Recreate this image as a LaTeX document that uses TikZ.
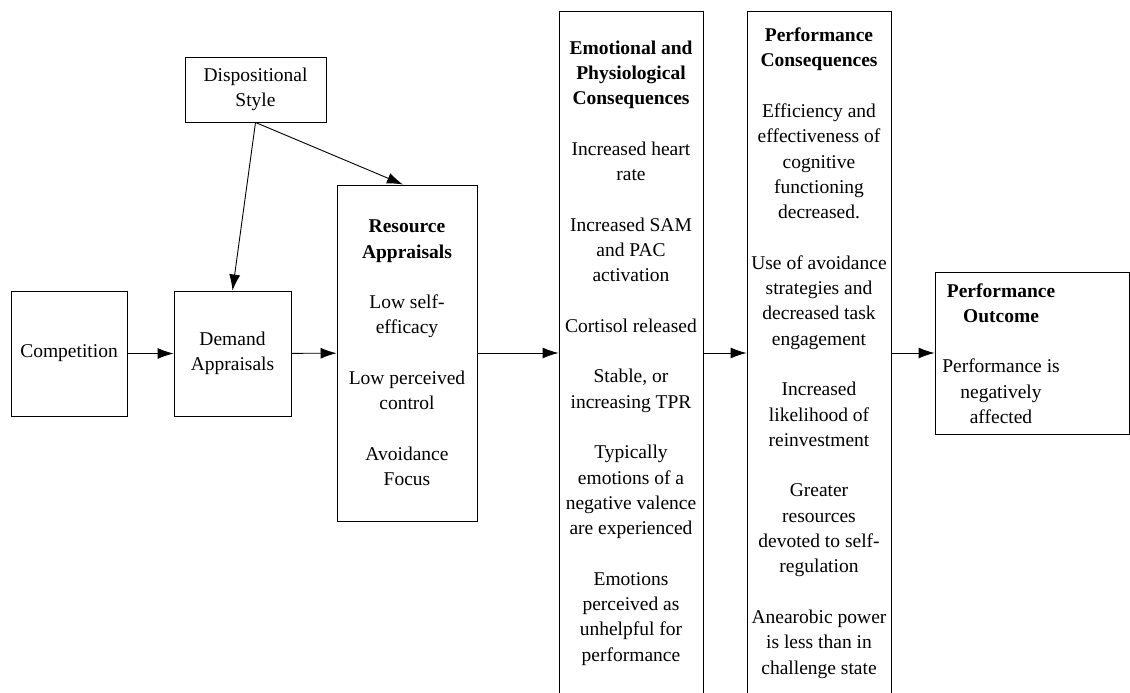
\documentclass[tikz,border=0pt]{standalone}
\usepackage{fontspec}
\setmainfont{Liberation Serif}
\usetikzlibrary{arrows.meta}
\newcommand{\gap}{\\[25.3pt]}

\begin{document}
\begin{tikzpicture}[x=1pt,y=-1pt,
	txt/.style={align=center,inner sep=0pt,font=\fontsize{19.5}{25.3}\selectfont},
	box/.style={txt,draw,line width=0.9pt},
	arr/.style={line width=0.9pt,-{Latex[length=16pt,width=11pt]}}]
	\useasboundingbox(0,0) rectangle (1130,693);
	\node[box,minimum width=141pt,minimum height=65pt](disp) at(255.5,89.5){Dispositional\\Style};
	\node[box,minimum width=116pt,minimum height=125pt](comp) at(69,353.5){Competition};
	\node[box,minimum width=117pt,minimum height=125pt](dem) at(232.5,353.5){Demand\\Appraisals};
	\node[box,minimum width=140pt,minimum height=336pt](res) at(407,353){\textbf{Resource}\\\textbf{Appraisals}\gap
		Low self-\\efficacy\gap
		Low perceived\\control\gap
		Avoidance\\Focus};
	\node[box,minimum width=144pt,minimum height=684pt](emo) at(631,353){\textbf{Emotional and}\\\textbf{Physiological}\\\textbf{Consequences}\gap
		Increased heart\\rate\gap
		Increased SAM\\and PAC\\activation\gap
		Cortisol released\gap
		Stable, or\\increasing TPR\gap
		Typically\\emotions of a\\negative valence\\are experienced\gap
		Emotions\\perceived as\\unhelpful for\\performance};
	\node[box,minimum width=144pt,minimum height=684pt](perf) at(819,353){\textbf{Performance}\\\textbf{Consequences}\gap
		Efficiency and\\effectiveness of\\cognitive\\functioning\\decreased.\gap
		Use of avoidance\\strategies and\\decreased task\\engagement\gap
		Increased\\likelihood of\\reinvestment\gap
		Greater\\resources\\devoted to self-\\regulation\gap
		Anearobic power\\is less than in\\challenge state};
	\node[box,minimum width=194pt,minimum height=162pt](outc) at(1032,353){};
	\node[txt](outctxt) at(1001,353.5){\textbf{Performance}\\\textbf{Outcome}\gap
		Performance is\\negatively\\affected};
	\draw[arr](comp)--(dem);
	\draw[arr](dem)--(res);
	\draw[arr](res)--(emo);
	\draw[arr](emo)--(perf);
	\draw[arr](perf)--(outc);
	\draw[arr](disp.south)--(dem.north);
	\draw[arr](disp.south)--([xshift=-4pt]res.north);
\end{tikzpicture}
\end{document}
